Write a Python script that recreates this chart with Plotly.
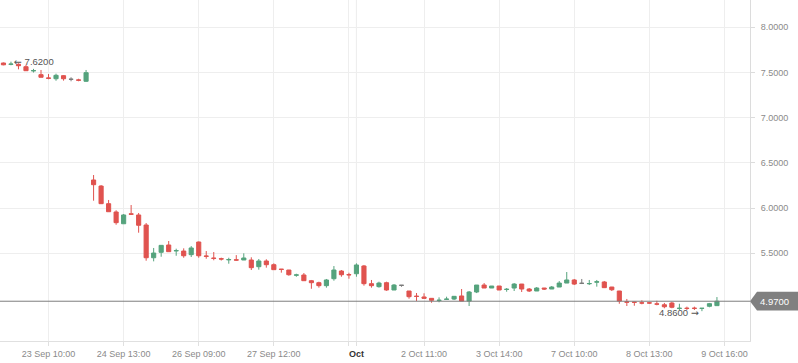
import plotly.graph_objects as go

# ---- data ----
bar_index = list(range(96))
open_ = [7.605, 7.590, 7.591, 7.564, 7.518, 7.476, 7.440, 7.431, 7.465, 7.425,
         7.418, 7.403, 6.311, 6.244, 6.049, 5.957, 5.827, 5.937, 5.924, 5.813,
         5.451, 5.511, 5.592, 5.527, 5.525, 5.485, 5.625, 5.470, 5.447, 5.440,
         5.428, 5.428, 5.426, 5.426, 5.352, 5.415, 5.374, 5.325, 5.315, 5.258,
         5.260, 5.197, 5.175, 5.142, 5.219, 5.304, 5.265, 5.274, 5.360, 5.164,
         5.131, 5.175, 5.094, 5.146, 5.083, 5.026, 5.017, 5.002, 4.978, 4.990,
         4.994, 5.028, 4.972, 5.072, 5.149, 5.116, 5.138, 5.100, 5.116, 5.160,
         5.105, 5.083, 5.116, 5.105, 5.127, 5.171, 5.205, 5.168, 5.163, 5.181,
         5.183, 5.127, 5.083, 4.963, 4.960, 4.952, 4.952, 4.940, 4.931, 4.950,
         4.890, 4.893, 4.893, 4.890, 4.914, 4.921]
high = [7.610, 7.620, 7.602, 7.586, 7.540, 7.528, 7.483, 7.487, 7.470, 7.447,
        7.431, 7.528, 6.366, 6.255, 6.090, 5.976, 5.935, 6.034, 5.946, 5.835,
        5.559, 5.588, 5.636, 5.551, 5.555, 5.580, 5.630, 5.525, 5.514, 5.452,
        5.451, 5.480, 5.500, 5.456, 5.437, 5.434, 5.389, 5.326, 5.316, 5.274,
        5.282, 5.205, 5.186, 5.216, 5.359, 5.315, 5.285, 5.389, 5.371, 5.205,
        5.186, 5.186, 5.160, 5.146, 5.083, 5.061, 5.058, 5.003, 5.013, 5.020,
        5.028, 5.105, 5.083, 5.149, 5.171, 5.138, 5.139, 5.116, 5.171, 5.161,
        5.116, 5.127, 5.117, 5.138, 5.193, 5.293, 5.216, 5.216, 5.205, 5.205,
        5.194, 5.128, 5.084, 4.995, 4.961, 4.980, 4.960, 4.975, 4.951, 4.964,
        4.942, 4.910, 4.910, 4.892, 4.951, 5.016]
low = [7.580, 7.580, 7.535, 7.517, 7.500, 7.447, 7.425, 7.409, 7.410, 7.403,
       7.403, 7.395, 6.082, 6.045, 5.958, 5.816, 5.827, 5.927, 5.728, 5.418,
       5.411, 5.462, 5.518, 5.473, 5.451, 5.459, 5.451, 5.440, 5.423, 5.420,
       5.385, 5.418, 5.426, 5.315, 5.319, 5.341, 5.319, 5.286, 5.252, 5.241,
       5.197, 5.108, 5.120, 5.120, 5.197, 5.241, 5.219, 5.241, 5.142, 5.120,
       5.120, 5.086, 5.094, 5.130, 4.998, 4.972, 5.000, 4.953, 4.958, 4.985,
       4.983, 4.972, 4.917, 5.060, 5.116, 5.116, 5.094, 5.075, 5.083, 5.072,
       5.072, 5.083, 5.094, 5.105, 5.127, 5.171, 5.149, 5.160, 5.149, 5.131,
       5.116, 5.083, 4.942, 4.917, 4.920, 4.936, 4.940, 4.925, 4.892, 4.892,
       4.873, 4.873, 4.873, 4.860, 4.903, 4.921]
close = [7.585, 7.593, 7.575, 7.520, 7.521, 7.447, 7.436, 7.469, 7.431, 7.425,
         7.415, 7.498, 6.259, 6.049, 5.960, 5.839, 5.924, 5.932, 5.810, 5.451,
         5.503, 5.588, 5.518, 5.530, 5.473, 5.559, 5.473, 5.467, 5.444, 5.437,
         5.431, 5.425, 5.448, 5.341, 5.415, 5.374, 5.319, 5.322, 5.263, 5.261,
         5.197, 5.175, 5.142, 5.205, 5.315, 5.263, 5.262, 5.371, 5.164, 5.142,
         5.171, 5.094, 5.149, 5.146, 5.020, 5.023, 5.002, 4.980, 4.981, 4.993,
         5.024, 4.972, 5.072, 5.149, 5.116, 5.138, 5.094, 5.102, 5.160, 5.105,
         5.083, 5.116, 5.105, 5.127, 5.171, 5.205, 5.160, 5.168, 5.166, 5.185,
         5.120, 5.097, 4.972, 4.960, 4.958, 4.950, 4.950, 4.938, 4.909, 4.903,
         4.892, 4.890, 4.891, 4.892, 4.943, 4.970]

x_tick_pos = [6, 16, 26, 36, 46, 47, 56, 66, 76, 86, 96]
x_tick_text = ["23 Sep 10:00", "24 Sep 13:00", "26 Sep 09:00", "27 Sep 12:00", "",
               "<span style='color:#333333'><b>Oct</b></span>",
               "2 Oct 11:00", "3 Oct 14:00", "7 Oct 10:00", "8 Oct 13:00", "9 Oct 16:00"]
y_ticks = [5.5, 6.0, 6.5, 7.0, 7.5, 8.0]

ARROW_FONT = "font-family:DejaVu Sans"
high_label = f"<span style='{ARROW_FONT}'>\u2190</span> 7.6200"
low_label = f"4.8600 <span style='{ARROW_FONT}'>\u2192</span>"
last_label = "4.9700"

# ---- styling ----
UP = "#55a37d"
DOWN = "#e0534f"
FLAT = "#7a7a7a"
GRID = "#eeeeee"
FONT = "Liberation Sans, Arial, sans-serif"

X_RANGE = [-0.46, 99.4]
Y_RANGE = [4.530, 8.302]

def subset(cond):
    idx = [i for i in bar_index if cond(open_[i], close[i])]
    return ([bar_index[i] for i in idx], [open_[i] for i in idx], [high[i] for i in idx],
            [low[i] for i in idx], [close[i] for i in idx])

fig = go.Figure()
for cond, col in [(lambda o, c: c > o, UP), (lambda o, c: c < o, DOWN), (lambda o, c: c == o, FLAT)]:
    xs, os_, hs, ls, cs = subset(cond)
    fig.add_trace(go.Candlestick(
        x=xs, open=os_, high=hs, low=ls, close=cs,
        increasing=dict(line=dict(color=col, width=1), fillcolor=col),
        decreasing=dict(line=dict(color=col, width=1), fillcolor=col),
        whiskerwidth=0, showlegend=False, hoverinfo="skip",
    ))

# month separator line
fig.add_shape(type="line", xref="x", yref="paper", x0=47, x1=47, y0=0, y1=1,
              line=dict(color="#d5d5d5", width=1), layer="below")

# last price line
last_price = close[-1]
fig.add_shape(type="line", xref="paper", yref="y", x0=0, x1=1, y0=last_price, y1=last_price,
              line=dict(color="#7d7d7d", width=1))

# last price label box (paper coordinates derived from the y range)
def py(v):
    return (v - Y_RANGE[0]) / (Y_RANGE[1] - Y_RANGE[0])

half = 9.4 / 341 * (Y_RANGE[1] - Y_RANGE[0])
tip = 1.0
body = 1.0 + 7 / 750
edge = 1.0 + 48 / 750
fig.add_shape(type="path", xref="paper", yref="paper",
              path=(f"M {tip},{py(last_price)} L {body},{py(last_price + half)} "
                    f"L {edge},{py(last_price + half)} L {edge},{py(last_price - half)} "
                    f"L {body},{py(last_price - half)} Z"),
              fillcolor="#808080", line=dict(width=0))
fig.add_annotation(xref="paper", yref="y", x=1.0 + 24.5 / 750, y=last_price, text=last_label,
                   showarrow=False, font=dict(color="#ffffff", size=9.5, family=FONT),
                   xanchor="center", yanchor="middle")

# high / low markers
hi_i = high.index(max(high))
lo_i = low.index(min(low))
fig.add_annotation(x=hi_i + 0.15, y=max(high), text=high_label, showarrow=False,
                   xanchor="left", yanchor="middle", font=dict(color="#555555", size=9.5, family=FONT))
fig.add_annotation(x=lo_i - 0.15, y=min(low) - 0.01, text=low_label, showarrow=False,
                   xanchor="right", yanchor="middle", font=dict(color="#555555", size=9.5, family=FONT))

fig.update_layout(
    width=798, height=363,
    margin=dict(l=0, r=48, t=0, b=22),
    paper_bgcolor="#ffffff", plot_bgcolor="#ffffff",
    font=dict(family=FONT, size=9, color="#8a8a8a"),
    boxgap=0.45, boxgroupgap=0,
    xaxis=dict(range=X_RANGE, tickmode="array", tickvals=x_tick_pos, ticktext=x_tick_text,
               showgrid=True, gridcolor=GRID, gridwidth=1, zeroline=False,
               showline=True, linecolor="#e0e0e0", linewidth=1,
               ticks="outside", ticklen=4, tickcolor="#e0e0e0",
               tickfont=dict(size=9, color="#8a8a8a", family=FONT),
               rangeslider=dict(visible=False), fixedrange=True),
    yaxis=dict(range=Y_RANGE, side="right", tickmode="array", tickvals=y_ticks,
               ticktext=[f"{v:.4f}" for v in y_ticks],
               showgrid=True, gridcolor=GRID, gridwidth=1, zeroline=False,
               showline=True, linecolor="#dcdcdc", linewidth=1,
               ticks="outside", ticklen=4, tickcolor="#dcdcdc", ticklabelstandoff=4,
               tickfont=dict(size=9, color="#8a8a8a", family=FONT), fixedrange=True),
)

fig.write_html("out.html", config={"displayModeBar": False},
               post_script="document.body.style.margin='0';document.body.style.padding='0';")
